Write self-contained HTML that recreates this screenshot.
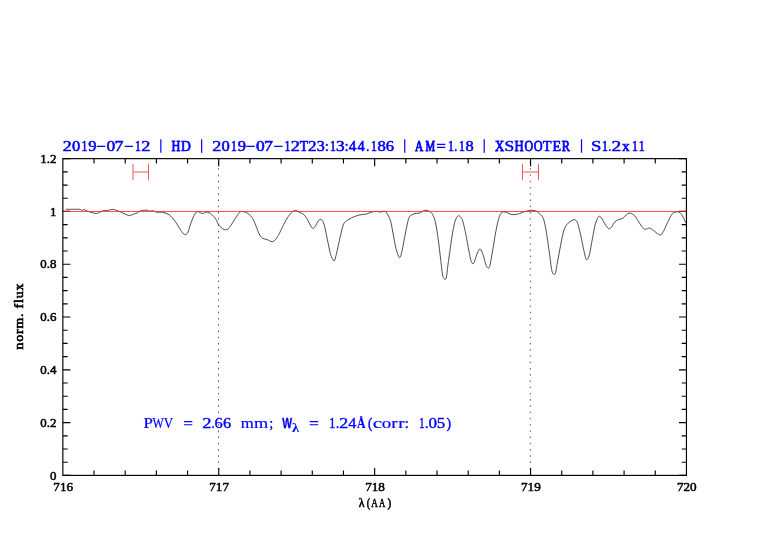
<!DOCTYPE html>
<html><head><meta charset="utf-8"><title>plot</title>
<style>html,body{margin:0;padding:0;background:#fff;overflow:hidden}svg{display:block;will-change:transform}text{font-family:"Liberation Sans",sans-serif}.tk{font-family:"Liberation Serif",serif;font-size:12.2px;fill:#000;stroke:#000;stroke-width:0.52px;vector-effect:non-scaling-stroke;stroke-linejoin:round}.ti{font-family:"Liberation Serif",serif;font-size:14.4px;fill:#0000ff;stroke:#0000ff;stroke-width:0.58px;vector-effect:non-scaling-stroke;stroke-linejoin:round}.an{font-family:"Liberation Serif",serif;font-size:15.0px;fill:#0000ff;stroke:#0000ff;stroke-width:0.42px;vector-effect:non-scaling-stroke;stroke-linejoin:round}.ax{font-family:"Liberation Serif",serif;font-size:11.5px;fill:#000;stroke:#000;stroke-width:0.55px}</style></head><body>
<svg width="782" height="542" viewBox="0 0 782 542">
<rect width="782" height="542" fill="#fff"/>
<line x1="218.50" y1="158.65" x2="218.50" y2="475.40" stroke="#444" stroke-width="0.95" stroke-dasharray="1.4 4.84" stroke-dashoffset="-3.41"/>
<line x1="530.30" y1="158.65" x2="530.30" y2="475.40" stroke="#444" stroke-width="0.95" stroke-dasharray="1.4 4.84" stroke-dashoffset="-3.41"/>
<path d="M65.8 209.3C67.7 209.3 77.0 209.2 79.2 209.3C81.4 209.4 81.0 210.2 81.7 210.3C82.4 210.4 83.5 209.6 84.3 209.7C85.1 209.8 86.6 210.7 87.5 211.1C88.4 211.5 89.5 212.0 90.7 212.3C91.9 212.6 95.2 213.5 96.4 213.5C97.6 213.5 98.6 212.7 99.6 212.3C100.6 211.9 102.2 210.9 103.5 210.6C104.8 210.3 107.4 210.5 108.6 210.3C109.8 210.1 111.3 209.3 112.4 209.3C113.5 209.3 115.0 209.9 116.3 210.3C117.6 210.7 120.0 211.7 121.4 212.3C122.8 212.9 125.3 214.4 126.5 214.8C127.7 215.2 128.7 215.6 129.7 215.5C130.7 215.4 132.4 214.6 133.5 214.2C134.6 213.8 136.3 213.4 137.4 212.9C138.5 212.4 139.8 211.0 141.2 210.6C142.6 210.2 146.4 210.2 147.6 210.3C148.8 210.4 148.7 211.1 149.5 211.2C150.3 211.3 152.3 210.5 153.3 210.7C154.3 210.9 155.5 212.1 156.8 212.3C158.1 212.5 161.1 212.0 162.8 212.3C164.5 212.7 167.4 213.5 169.2 214.8C171.0 216.1 174.0 219.7 175.6 221.9C177.2 224.1 179.5 228.4 180.7 230.2C181.9 232.0 183.5 234.2 184.5 234.6C185.5 234.9 186.8 234.3 187.7 232.7C188.6 231.1 190.0 225.5 190.9 223.1C191.8 220.7 193.2 217.1 194.1 215.5C195.0 213.9 196.1 211.9 197.3 211.6C198.5 211.3 201.1 213.4 202.4 213.5C203.7 213.6 205.6 211.9 206.9 212.0C208.2 212.1 210.1 213.2 211.4 214.2C212.7 215.2 214.8 217.7 215.9 219.3C217.0 220.9 218.1 224.1 219.1 225.4C220.1 226.7 222.0 228.3 222.9 228.9C223.8 229.5 224.6 229.9 225.4 229.8C226.2 229.7 227.5 229.6 228.6 228.5C229.7 227.4 231.8 223.9 233.1 221.9C234.4 219.9 237.1 215.7 238.2 214.2C239.3 212.7 239.8 211.8 240.8 211.5C241.8 211.2 244.3 211.8 245.5 212.3C246.7 212.8 248.5 213.7 249.6 214.8C250.7 215.9 252.4 218.1 253.4 219.9C254.4 221.7 255.8 225.6 256.6 227.6C257.4 229.6 258.4 232.5 259.2 234.0C260.0 235.5 261.3 237.4 262.4 238.2C263.5 239.0 265.6 239.0 266.9 239.5C268.2 240.0 270.8 241.7 272.0 241.7C273.2 241.7 274.3 240.7 275.2 239.8C276.1 238.9 277.3 237.2 278.4 235.3C279.5 233.4 281.6 228.7 282.8 226.3C284.0 223.9 286.0 220.0 287.3 218.0C288.6 216.0 290.6 213.4 291.8 212.3C293.0 211.2 294.6 210.3 295.6 210.3C296.6 210.3 297.7 211.5 298.8 212.0C299.9 212.5 302.2 213.4 303.3 214.2C304.4 215.0 305.6 216.7 306.5 218.0C307.4 219.3 308.8 222.3 309.7 223.8C310.6 225.3 311.8 228.0 312.6 228.4C313.4 228.8 314.4 227.5 315.2 226.4C316.0 225.3 317.4 221.7 318.3 220.7C319.2 219.7 320.5 219.0 321.3 219.5C322.1 220.0 323.3 221.9 324.0 224.0C324.7 226.1 325.8 231.7 326.4 234.6C327.0 237.5 327.9 242.2 328.5 245.0C329.1 247.8 329.9 252.6 330.7 254.8C331.5 257.0 333.3 261.1 334.1 260.9C334.9 260.7 335.8 256.3 336.6 253.1C337.4 249.9 339.0 242.1 339.9 238.2C340.8 234.3 342.3 227.3 343.2 224.9C344.1 222.5 345.1 221.8 346.5 220.7C347.9 219.6 351.3 217.9 353.2 217.1C355.1 216.3 358.0 215.3 359.8 214.9C361.6 214.5 364.8 214.5 366.4 214.1C368.0 213.7 369.9 212.5 371.4 212.1C372.9 211.7 375.9 211.4 377.2 211.4C378.5 211.4 379.6 212.1 380.5 212.1C381.4 212.1 383.0 211.0 383.9 211.1C384.8 211.2 385.8 211.6 386.7 212.9C387.6 214.2 389.6 217.9 390.5 220.7C391.4 223.5 392.2 229.1 393.0 233.2C393.8 237.3 395.4 246.4 396.3 249.8C397.2 253.2 398.8 257.5 399.6 257.6C400.4 257.7 401.3 254.0 402.1 250.6C402.9 247.2 404.5 237.7 405.4 233.2C406.3 228.7 407.9 220.8 408.8 218.2C409.7 215.6 411.1 215.3 412.1 214.6C413.1 213.9 415.2 213.5 416.2 213.3C417.2 213.1 418.3 213.5 419.5 213.1C420.7 212.7 423.3 210.5 424.8 210.3C426.3 210.1 428.8 210.8 430.0 211.6C431.2 212.4 432.5 214.0 433.3 215.7C434.1 217.4 435.1 220.6 435.8 224.0C436.5 227.4 437.6 234.8 438.3 239.8C439.0 244.8 440.1 254.6 440.7 259.7C441.3 264.8 442.1 273.7 442.9 276.3C443.7 278.9 445.4 280.3 446.1 278.4C446.8 276.5 447.4 268.4 448.2 263.0C449.0 257.6 450.6 245.6 451.5 239.8C452.4 234.0 453.9 225.0 454.9 221.6C455.9 218.2 457.5 215.9 458.5 215.7C459.5 215.5 461.3 217.5 462.3 219.9C463.3 222.3 464.7 228.8 465.6 233.2C466.5 237.6 468.2 247.3 469.0 251.4C469.8 255.5 470.8 260.6 471.5 262.2C472.2 263.8 473.1 264.3 473.9 263.0C474.7 261.7 476.4 255.1 477.3 253.1C478.2 251.1 479.4 248.7 480.2 248.9C481.0 249.1 482.2 252.4 483.1 254.8C484.0 257.2 485.5 264.3 486.4 266.0C487.3 267.7 488.6 269.0 489.4 267.2C490.2 265.4 491.3 257.9 492.2 253.1C493.1 248.3 494.6 238.1 495.5 233.2C496.4 228.3 497.9 221.2 498.8 218.2C499.7 215.2 501.1 212.9 502.2 212.1C503.2 211.3 504.9 212.1 506.3 212.4C507.7 212.8 510.5 214.4 512.1 214.6C513.7 214.8 516.1 214.5 517.9 214.1C519.6 213.7 522.9 212.1 524.6 211.6C526.3 211.1 528.7 210.4 530.2 210.3C531.7 210.2 534.2 210.3 535.6 210.8C537.0 211.3 538.8 213.1 539.9 214.1C541.0 215.1 542.4 216.2 543.2 218.2C544.0 220.2 544.9 223.8 545.7 228.2C546.5 232.6 548.1 243.8 549.0 249.8C549.9 255.8 551.1 267.9 552.0 271.3C552.9 274.7 554.5 275.0 555.2 273.8C555.9 272.6 556.5 267.1 557.3 263.0C558.1 258.9 559.8 249.4 560.7 244.8C561.6 240.2 563.0 232.9 564.0 229.9C565.0 226.9 566.7 224.6 568.1 223.2C569.5 221.8 572.6 219.7 573.9 219.6C575.2 219.5 576.4 220.3 577.3 222.4C578.2 224.5 579.7 230.9 580.6 234.8C581.5 238.7 583.1 247.1 583.9 250.6C584.7 254.1 585.6 259.1 586.4 259.7C587.2 260.3 588.6 257.6 589.4 254.8C590.2 252.0 591.3 244.2 592.2 239.8C593.1 235.4 594.5 226.5 595.5 223.2C596.5 219.9 598.3 216.8 599.2 216.2C600.1 215.6 601.3 217.9 602.2 219.1C603.1 220.3 604.6 223.6 605.5 224.9C606.4 226.2 608.0 228.3 608.8 228.7C609.6 229.0 610.5 228.3 611.3 227.4C612.1 226.5 613.6 223.2 614.6 222.1C615.6 221.0 617.6 220.0 618.7 219.5C619.8 219.0 621.6 219.1 622.8 218.3C624.0 217.5 626.1 214.7 627.2 214.0C628.3 213.3 629.6 213.0 630.6 213.2C631.6 213.4 633.5 214.5 634.6 215.7C635.7 216.9 637.7 220.3 638.8 222.0C639.9 223.7 641.8 226.8 642.8 227.8C643.8 228.8 644.7 229.3 645.7 229.3C646.7 229.3 648.6 227.9 649.7 228.1C650.8 228.3 652.5 229.9 653.7 230.7C654.9 231.5 657.2 233.5 658.3 234.1C659.3 234.7 660.4 235.3 661.2 234.7C662.0 234.1 663.2 231.8 664.1 230.1C665.0 228.4 666.5 224.6 667.5 222.6C668.5 220.6 670.1 217.1 671.0 215.7C671.9 214.3 672.8 213.0 673.9 212.5C675.0 212.0 677.9 211.6 679.0 212.0C680.1 212.4 681.2 214.1 681.9 215.1C682.6 216.1 683.7 218.1 684.2 219.2C684.7 220.3 685.5 222.6 685.7 223.2" stroke="#111" stroke-width="0.75" fill="none" stroke-linejoin="round"/>
<path d="M133.00 164v16M148.50 164v16M133.00 172H148.50" stroke="#ff5050" stroke-width="1.0" fill="none"/>
<path d="M522.50 164v16M538.50 164v16M522.50 172H538.50" stroke="#ff5050" stroke-width="1.0" fill="none"/>
<path d="M94.03 475.40v-4.80M94.03 158.65v4.80M125.21 475.40v-4.80M125.21 158.65v4.80M156.39 475.40v-4.80M156.39 158.65v4.80M187.57 475.40v-4.80M187.57 158.65v4.80M218.75 475.40v-7.50M218.75 158.65v7.50M249.93 475.40v-4.80M249.93 158.65v4.80M281.11 475.40v-4.80M281.11 158.65v4.80M312.29 475.40v-4.80M312.29 158.65v4.80M343.47 475.40v-4.80M343.47 158.65v4.80M374.65 475.40v-7.50M374.65 158.65v7.50M405.83 475.40v-4.80M405.83 158.65v4.80M437.01 475.40v-4.80M437.01 158.65v4.80M468.19 475.40v-4.80M468.19 158.65v4.80M499.37 475.40v-4.80M499.37 158.65v4.80M530.55 475.40v-7.50M530.55 158.65v7.50M561.73 475.40v-4.80M561.73 158.65v4.80M592.91 475.40v-4.80M592.91 158.65v4.80M624.09 475.40v-4.80M624.09 158.65v4.80M655.27 475.40v-4.80M655.27 158.65v4.80M62.85 475.40h7.50M686.45 475.40h-7.50M62.85 462.20h4.80M686.45 462.20h-4.80M62.85 449.00h4.80M686.45 449.00h-4.80M62.85 435.81h4.80M686.45 435.81h-4.80M62.85 422.61h7.50M686.45 422.61h-7.50M62.85 409.41h4.80M686.45 409.41h-4.80M62.85 396.21h4.80M686.45 396.21h-4.80M62.85 383.01h4.80M686.45 383.01h-4.80M62.85 369.82h7.50M686.45 369.82h-7.50M62.85 356.62h4.80M686.45 356.62h-4.80M62.85 343.42h4.80M686.45 343.42h-4.80M62.85 330.22h4.80M686.45 330.22h-4.80M62.85 317.02h7.50M686.45 317.02h-7.50M62.85 303.83h4.80M686.45 303.83h-4.80M62.85 290.63h4.80M686.45 290.63h-4.80M62.85 277.43h4.80M686.45 277.43h-4.80M62.85 264.23h7.50M686.45 264.23h-7.50M62.85 251.04h4.80M686.45 251.04h-4.80M62.85 237.84h4.80M686.45 237.84h-4.80M62.85 224.64h4.80M686.45 224.64h-4.80M62.85 211.44h7.50M686.45 211.44h-7.50M62.85 198.24h4.80M686.45 198.24h-4.80M62.85 185.05h4.80M686.45 185.05h-4.80M62.85 171.85h4.80M686.45 171.85h-4.80M62.85 158.65h7.50M686.45 158.65h-7.50" stroke="#000" stroke-width="1.15" fill="none"/>
<line x1="62.85" y1="211.50" x2="686.45" y2="211.50" stroke="#ff2020" stroke-width="1.0" opacity="0.78"/>
<rect x="62.85" y="158.65" width="623.60" height="316.75" fill="none" stroke="#000" stroke-width="1.15"/>
<text class="tk" transform="translate(56.4 162.85) scale(1.06 1)" text-anchor="end">1.2</text>
<text class="tk" transform="translate(56.4 215.64) scale(1.06 1)" text-anchor="end">1</text>
<text class="tk" transform="translate(56.4 268.43) scale(1.06 1)" text-anchor="end">0.8</text>
<text class="tk" transform="translate(56.4 321.22) scale(1.06 1)" text-anchor="end">0.6</text>
<text class="tk" transform="translate(56.4 374.02) scale(1.06 1)" text-anchor="end">0.4</text>
<text class="tk" transform="translate(56.4 426.81) scale(1.06 1)" text-anchor="end">0.2</text>
<text class="tk" transform="translate(56.4 479.60) scale(1.06 1)" text-anchor="end">0</text>
<text class="tk" transform="translate(63.20 490.7) scale(1.08 1)" text-anchor="middle">716</text>
<text class="tk" transform="translate(219.10 490.7) scale(1.08 1)" text-anchor="middle">717</text>
<text class="tk" transform="translate(375.00 490.7) scale(1.08 1)" text-anchor="middle">718</text>
<text class="tk" transform="translate(530.90 490.7) scale(1.08 1)" text-anchor="middle">719</text>
<text class="tk" transform="translate(686.80 490.7) scale(1.08 1)" text-anchor="middle">720</text>
<text class="ax" transform="translate(358.67 506.90) scale(1.024 1.000)">&#955;</text>
<text class="ax" transform="translate(366.70 506.90) scale(0.885 1.000)">(</text>
<text class="ax" transform="translate(371.23 506.90) scale(0.797 1.000)">A</text>
<text class="ax" transform="translate(378.92 506.90) scale(0.751 1.000)">A</text>
<text class="ax" transform="translate(387.51 506.90) scale(0.970 1.000)">)</text>
<text class="ax" style="stroke-width:0.6px" transform="translate(22.9 349.4) rotate(-90) scale(1.2 1)" textLength="54.75" lengthAdjust="spacing" xml:space="preserve">norm. flux</text>
<text class="ti" transform="translate(62.67 150.50) scale(1.259 1.000)">2</text>
<text class="ti" transform="translate(72.00 150.50) scale(1.152 1.000)">0</text>
<text class="ti" transform="translate(81.51 150.50) scale(0.814 1.000)">1</text>
<text class="ti" transform="translate(88.20 150.50) scale(1.145 1.000)">9</text>
<text class="ti" transform="translate(106.49 150.50) scale(1.212 1.000)">0</text>
<text class="ti" transform="translate(114.58 150.50) scale(1.247 1.000)">7</text>
<text class="ti" transform="translate(134.91 150.50) scale(0.814 1.000)">1</text>
<text class="ti" transform="translate(141.36 150.50) scale(1.275 1.000)">2</text>
<text class="ti" transform="translate(171.48 150.50) scale(0.851 1.000)" style="stroke-width:0.78px">H</text>
<text class="ti" transform="translate(181.03 150.50) scale(0.951 1.000)" style="stroke-width:0.69px">D</text>
<text class="ti" transform="translate(212.17 150.50) scale(1.259 1.000)">2</text>
<text class="ti" transform="translate(221.50 150.50) scale(1.152 1.000)">0</text>
<text class="ti" transform="translate(231.01 150.50) scale(0.814 1.000)">1</text>
<text class="ti" transform="translate(237.70 150.50) scale(1.145 1.000)">9</text>
<text class="ti" transform="translate(255.99 150.50) scale(1.212 1.000)">0</text>
<text class="ti" transform="translate(264.08 150.50) scale(1.247 1.000)">7</text>
<text class="ti" transform="translate(284.41 150.50) scale(0.814 1.000)">1</text>
<text class="ti" transform="translate(290.86 150.50) scale(1.275 1.000)">2</text>
<text class="ti" transform="translate(299.68 150.50) scale(0.934 1.000)" style="stroke-width:0.70px">T</text>
<text class="ti" transform="translate(307.99 150.50) scale(1.196 1.000)">2</text>
<text class="ti" transform="translate(316.75 150.50) scale(1.118 1.000)">3</text>
<text class="ti" transform="translate(324.92 150.50) scale(0.923 1.000)">:</text>
<text class="ti" transform="translate(329.91 150.50) scale(0.814 1.000)">1</text>
<text class="ti" transform="translate(336.02 150.50) scale(1.195 1.000)">3</text>
<text class="ti" transform="translate(344.82 150.50) scale(0.923 1.000)">:</text>
<text class="ti" transform="translate(348.81 150.50) scale(1.059 1.000)">4</text>
<text class="ti" transform="translate(357.61 150.50) scale(1.004 1.000)">4</text>
<text class="ti" transform="translate(366.25 150.50) scale(0.833 1.000)">.</text>
<text class="ti" transform="translate(371.01 150.50) scale(0.814 1.000)">1</text>
<text class="ti" transform="translate(377.40 150.50) scale(1.152 1.000)">8</text>
<text class="ti" transform="translate(385.72 150.50) scale(1.144 1.000)">6</text>
<text class="ti" transform="translate(415.12 150.50) scale(0.791 1.000)" style="stroke-width:0.84px">A</text>
<text class="ti" transform="translate(425.41 150.50) scale(0.749 1.000)" style="stroke-width:0.85px">M</text>
<text class="ti" transform="translate(448.01 150.50) scale(0.814 1.000)">1</text>
<text class="ti" transform="translate(454.35 150.50) scale(0.833 1.000)">.</text>
<text class="ti" transform="translate(459.11 150.50) scale(0.814 1.000)">1</text>
<text class="ti" transform="translate(465.41 150.50) scale(1.137 1.000)">8</text>
<text class="ti" transform="translate(494.95 150.50) scale(0.879 1.000)" style="stroke-width:0.76px">X</text>
<text class="ti" transform="translate(504.43 150.50) scale(1.218 1.000)" style="stroke-width:0.50px">S</text>
<text class="ti" transform="translate(514.47 150.50) scale(0.882 1.000)" style="stroke-width:0.75px">H</text>
<text class="ti" transform="translate(524.54 150.50) scale(0.829 1.000)" style="stroke-width:0.80px">O</text>
<text class="ti" transform="translate(533.63 150.50) scale(0.850 1.000)" style="stroke-width:0.78px">O</text>
<text class="ti" transform="translate(542.66 150.50) scale(0.995 1.000)" style="stroke-width:0.64px">T</text>
<text class="ti" transform="translate(552.52 150.50) scale(0.973 1.000)" style="stroke-width:0.66px">E</text>
<text class="ti" transform="translate(561.78 150.50) scale(0.855 1.000)" style="stroke-width:0.78px">R</text>
<text class="ti" transform="translate(590.98 150.50) scale(1.293 1.000)" style="stroke-width:0.50px">S</text>
<text class="ti" transform="translate(602.01 150.50) scale(0.814 1.000)">1</text>
<text class="ti" transform="translate(608.44 150.50) scale(0.701 1.000)">.</text>
<text class="ti" transform="translate(611.54 150.50) scale(1.354 1.000)">2</text>
<text class="ti" transform="translate(621.97 150.50) scale(1.070 1.000)">x</text>
<text class="ti" transform="translate(631.91 150.50) scale(0.814 1.000)">1</text>
<text class="ti" transform="translate(638.81 150.50) scale(0.814 1.000)">1</text>
<path d="M96.80 146.3H105.30M124.60 146.3H133.00M160.85 139.3V152.8M201.65 139.3V152.8M246.30 146.3H254.80M274.10 146.3H282.50M404.75 139.3V152.8M437.00 144.3H445.30M437.00 147.4H445.30M484.20 139.3V152.8M581.50 139.3V152.8" stroke="#0000ff" stroke-width="1.2" fill="none"/>
<text class="an" transform="translate(143.44 427.90) scale(1.129 1.000)" style="stroke-width:0.22px">P</text>
<text class="an" transform="translate(152.38 427.90) scale(0.802 1.000)" style="stroke-width:0.22px">W</text>
<text class="an" transform="translate(163.75 427.90) scale(0.859 1.000)" style="stroke-width:0.22px">V</text>
<text class="an" transform="translate(202.14 427.90) scale(1.244 1.000)">2</text>
<text class="an" transform="translate(211.70 427.90) scale(0.775 1.000)">.</text>
<text class="an" transform="translate(214.62 427.90) scale(1.098 1.000)">6</text>
<text class="an" transform="translate(223.03 427.90) scale(1.084 1.000)">6</text>
<text class="an" transform="translate(240.87 427.90) scale(1.120 1.000)" style="stroke-width:0.22px">m</text>
<text class="an" transform="translate(253.95 427.90) scale(1.217 1.000)" style="stroke-width:0.22px">m</text>
<text class="an" transform="translate(269.41 427.90) scale(0.864 1.000)">;</text>
<text class="an" transform="translate(282.30 427.50) scale(0.721 1.000)" style="font-family:&quot;Liberation Sans&quot;,sans-serif;font-size:14.4px;font-weight:bold;stroke-width:0.3px">W</text>
<text class="an" transform="translate(329.31 427.90) scale(0.807 1.000)">1</text>
<text class="an" transform="translate(335.96 427.90) scale(0.821 1.000)">.</text>
<text class="an" transform="translate(339.36 427.90) scale(1.197 1.000)">2</text>
<text class="an" transform="translate(348.21 427.90) scale(1.082 1.000)">4</text>
<text class="an" transform="translate(357.06 427.90) scale(0.779 1.000)" style="font-weight:bold;stroke-width:0.2px">&#197;</text>
<text class="an" transform="translate(367.91 427.90) scale(0.866 1.000)">(</text>
<text class="an" transform="translate(372.64 427.90) scale(1.420 1.000)" style="stroke-width:0.22px">c</text>
<text class="an" transform="translate(381.72 427.90) scale(1.262 1.000)" style="stroke-width:0.22px">o</text>
<text class="an" transform="translate(391.36 427.90) scale(1.254 1.000)" style="stroke-width:0.22px">r</text>
<text class="an" transform="translate(398.26 427.90) scale(1.275 1.000)" style="stroke-width:0.22px">r</text>
<text class="an" transform="translate(404.76 427.90) scale(0.961 1.000)">:</text>
<text class="an" transform="translate(419.22 427.90) scale(0.702 1.000)">1</text>
<text class="an" transform="translate(424.99 427.90) scale(0.912 1.000)">.</text>
<text class="an" transform="translate(428.49 427.90) scale(1.136 1.000)">0</text>
<text class="an" transform="translate(436.85 427.90) scale(1.130 1.000)">5</text>
<text class="an" transform="translate(446.55 427.90) scale(0.913 1.000)">)</text>
<path d="M183.90 421.6H192.30M183.90 424.8H192.30M309.70 421.6H318.20M309.70 424.8H318.20" stroke="#0000ff" stroke-width="1.05" fill="none"/>
<text class="an" transform="translate(291.93 431.80) scale(1.116 1.000)" style="font-size:13px;font-weight:bold;stroke:none">&#955;</text>
</svg></body></html>
